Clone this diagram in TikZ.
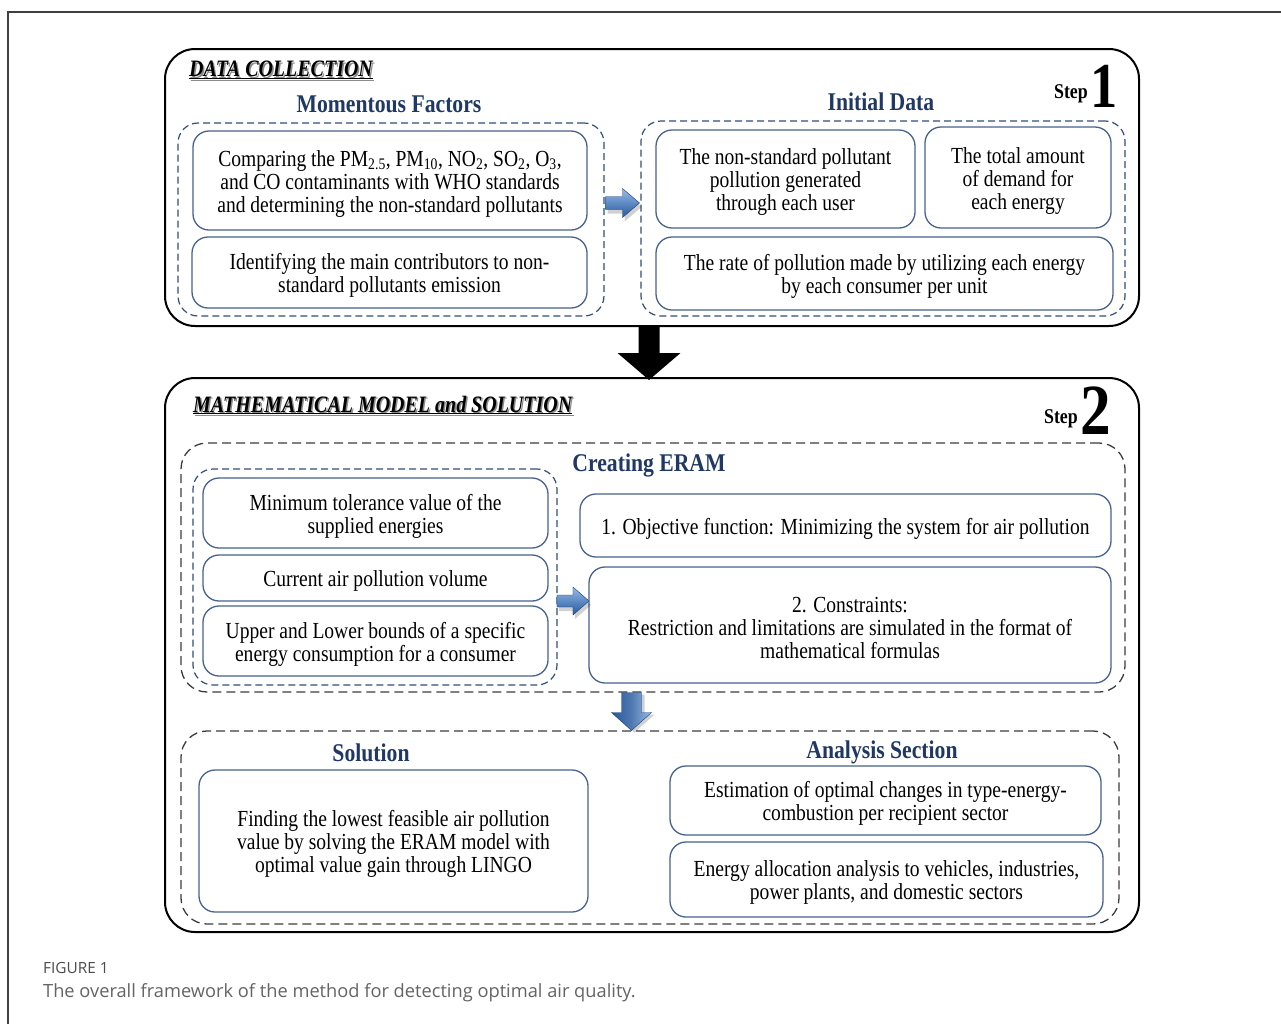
\documentclass[tikz,border=0pt]{standalone}
\usepackage{fontspec}
\setmainfont{Liberation Serif}[FakeStretch=0.85]
\newfontfamily\capfont{Open Sans}
\usetikzlibrary{calc}
\definecolor{headblue}{RGB}{31,56,100}
\definecolor{boxblue}{RGB}{72,98,140}
\definecolor{dashblue}{RGB}{50,78,120}
\definecolor{dashgray}{RGB}{60,60,60}
\definecolor{arrlight}{RGB}{150,188,232}
\definecolor{arrdark}{RGB}{38,88,158}
\definecolor{capgray}{RGB}{100,100,100}
\newcommand\bodysz{\fontsize{23}{23}\selectfont}
\newcommand\headsz{\fontsize{25.5}{26}\selectfont}
\newcommand\titlesz{\fontsize{23.5}{25}\selectfont}
\tikzset{
  every node/.style={inner sep=0pt},
  bigbox/.style={draw=black, line width=2pt, rounded corners=30pt},
  bgroup/.style={draw=dashblue, dash pattern=on 7pt off 4pt, line width=1.2pt, rounded corners=20pt},
  ggroup/.style={draw=dashgray, dash pattern=on 9pt off 5pt, line width=1.3pt, rounded corners=26pt},
  ibox/.style={draw=boxblue, line width=1.3pt, rounded corners=16pt, fill=white},
  txt/.style={align=center, font=\bodysz},
  head/.style={font=\headsz\bfseries, text=headblue},
  ttl/.style={anchor=west, font=\titlesz\bfseries\itshape},
  blockarrow/.style={top color=arrlight, bottom color=arrdark, draw=arrdark!70!black, line width=0.4pt},
  shadowarrow/.style={fill=black, opacity=0.18}
}
\begin{document}
\begin{tikzpicture}[x=1pt,y=-1pt]
\useasboundingbox (0,0) rectangle (1281,1023);
\fill[white] (0,0) rectangle (1281,1023);
% outer frame
\draw[line width=1.2pt, draw=black!75] (8,1030) -- (8,12) -- (1290,12);

% ---------- Step 1 ----------
\node[bigbox, minimum width=974pt, minimum height=277pt] (step1) at (652,187.5) {};
\node[ttl, text=black!45] at (190.5,71.5) {\underline{DATA COLLECTION}};
\node[ttl] (t1) at (189,70) {\underline{DATA COLLECTION}};
\node[anchor=base east, font=\fontsize{21}{21}\selectfont\bfseries] (s1) at (1088,98) {Step};
\node[anchor=base west, font=\fontsize{64}{64}\selectfont\bfseries] (n1) at (1090,107) {1};

\node[head] (hmf) at (389,104) {Momentous Factors};
\node[head] (hid) at (881,102) {Initial Data};

\node[bgroup, minimum width=426pt, minimum height=193pt] (g1) at (391,219.5) {};
\node[ibox, minimum width=394pt, minimum height=99pt] (a1) at (390,180.5) {};
\node[txt] (a1t) at ($(a1)+(0,3)$)
  {Comparing the PM\textsubscript{2.5}, PM\textsubscript{10}, NO\textsubscript{2}, SO\textsubscript{2}, O\textsubscript{3},\\ and CO contaminants with WHO standards\\ and determining the non-standard pollutants};
\node[ibox, minimum width=395pt, minimum height=71pt] (a2) at (389.5,272.5) {};
\node[txt] (a2t) at ($(a2)+(0,3)$)
  {Identifying the main contributors to non-\\ standard pollutants emission};

\node[bgroup, minimum width=484pt, minimum height=195pt] (g2) at (883,218.5) {};
\node[ibox, minimum width=259pt, minimum height=98pt] (b1) at (785.5,179) {};
\node[txt] (b1t) at ($(b1)+(0,3)$)
  {The non-standard pollutant\\ pollution generated\\ through each user};
\node[ibox, minimum width=186pt, minimum height=101pt] (b2) at (1018,177.5) {};
\node[txt] (b2t) at ($(b2)+(0,3)$)
  {The total amount\\ of demand for\\ each energy};
\node[ibox, minimum width=457pt, minimum height=73pt] (b3) at (884.5,273.5) {};
\node[txt] (b3t) at ($(b3)+(0,3)$)
  {The rate of pollution made by utilizing each energy\\ by each consumer per unit};

% blue arrow g1 -> g2
\coordinate (m1) at ($(g1.east)!0.5!(g2.west)+(0,-16)$);
\fill[shadowarrow, shift={($(m1)+(2,4)$)}] (-17,-6.5) -- (0,-6.5) -- (0,-14.5) -- (17,0) -- (0,14.5) -- (0,6.5) -- (-17,6.5) -- cycle;
\shade[blockarrow, shift={(m1)}] (-17,-6.5) -- (0,-6.5) -- (0,-14.5) -- (17,0) -- (0,14.5) -- (0,6.5) -- (-17,6.5) -- cycle;

% ---------- Step 2 ----------
\node[bigbox, minimum width=974pt, minimum height=554pt] (step2) at (652,655) {};

% big black arrow step1 -> step2
\coordinate (bk) at ($(step1.south)+(-3,0)$);
\fill[black] (bk) ++(-10.5,0) -- ++(0,26) -- ++(-21,0) -- ($(bk)+(0,53)$) -- ($(bk)+(31.5,26)$) -- ++(-21,0) -- ($(bk)+(10.5,0)$) -- cycle;

\node[ttl, text=black!45] at (194.5,406.5) {\underline{MATHEMATICAL MODEL and SOLUTION}};
\node[ttl] (t2) at (193,405) {\underline{MATHEMATICAL MODEL and SOLUTION}};
\node[anchor=base east, font=\fontsize{21}{21}\selectfont\bfseries] (s2) at (1078,423) {Step};
\node[anchor=base west, font=\fontsize{72}{72}\selectfont\bfseries] (n2) at (1080,434) {2};

\node[ggroup, minimum width=944pt, minimum height=249pt] (g3) at (653,567.5) {};
\node[head] (hce) at (649,465) {Creating ERAM};
\node[bgroup, minimum width=364pt, minimum height=216pt] (g4) at (375,577) {};
\node[ibox, minimum width=345pt, minimum height=70pt] (c1) at (375.5,513) {};
\node[txt] (c1t) at ($(c1)+(0,3)$)
  {Minimum tolerance value of the\\ supplied energies};
\node[ibox, minimum width=345pt, minimum height=46pt] (c2) at (375.5,578) {};
\node[txt] (c2t) at ($(c2)+(0,3)$)
  {Current air pollution volume};
\node[ibox, minimum width=345pt, minimum height=70pt] (c3) at (375.5,641) {};
\node[txt] (c3t) at ($(c3)+(0,3)$)
  {Upper and Lower bounds of a specific\\ energy consumption for a consumer};
\node[ibox, minimum width=531pt, minimum height=63pt] (d1) at (845.5,525.5) {};
\node[txt] (d1t) at ($(d1)+(0,3)$)
  {1. Objective function: Minimizing the system for air pollution};
\node[ibox, minimum width=522pt, minimum height=116pt] (d2) at (850,625) {};
\node[txt] (d2t) at ($(d2)+(0,3)$)
  {2. Constraints:\\ Restriction and limitations are simulated in the format of\\ mathematical formulas};

% blue arrow g4 -> d2
\coordinate (m2) at ($(g4.east)!0.5!(d2.west)+(0,0)$);
\fill[shadowarrow, shift={($(m2)+(2,4)$)}] (-16,-6) -- (0,-6) -- (0,-14) -- (16,0) -- (0,14) -- (0,6) -- (-16,6) -- cycle;
\shade[blockarrow, shift={(m2)}] (-16,-6) -- (0,-6) -- (0,-14) -- (16,0) -- (0,14) -- (0,6) -- (-16,6) -- cycle;

\node[ggroup, minimum width=938pt, minimum height=193pt] (g5) at (650,827.5) {};

% blue arrow g3 -> g5
\coordinate (m3) at ($(g3.south)!0.5!(g5.north)+(-20,0)$);
\fill[shadowarrow, shift={($(m3)+(3,2)$)}] (-10,-19) -- (10,-19) -- (10,1) -- (20,1) -- (0,19) -- (-20,1) -- (-10,1) -- cycle;
\shade[blockarrow, left color=arrdark, right color=arrlight, middle color=arrdark!80, shift={(m3)}] (-10,-19) -- (10,-19) -- (10,1) -- (20,1) -- (0,19) -- (-20,1) -- (-10,1) -- cycle;

\node[head] (hso) at (371,753) {Solution};
\node[head] (has) at (882,752) {Analysis Section};
\node[ibox, minimum width=389pt, minimum height=142pt] (e1) at (393.5,841) {};
\node[txt] (e1t) at ($(e1)+(0,3)$)
  {Finding the lowest feasible air pollution\\ value by solving the ERAM model with\\ optimal value gain through LINGO};
\node[ibox, minimum width=431pt, minimum height=69pt] (f1) at (885.5,800.5) {};
\node[txt] (f1t) at ($(f1)+(0,3)$)
  {Estimation of optimal changes in type-energy-\\ combustion per recipient sector};
\node[ibox, minimum width=433pt, minimum height=75pt] (f2) at (886.5,879.5) {};
\node[txt] (f2t) at ($(f2)+(0,3)$)
  {Energy allocation analysis to vehicles, industries,\\ power plants, and domestic sectors};

% caption
\node[anchor=base west, font=\capfont\fontsize{15.4}{15.4}\selectfont, text=black!70] (cap1) at (43,973) {FIGURE 1};
\node[anchor=base west, font=\capfont\fontsize{18.25}{18.25}\selectfont, text=capgray] (cap2) at (43,997) {The overall framework of the method for detecting optimal air quality.};
\end{tikzpicture}
\end{document}
